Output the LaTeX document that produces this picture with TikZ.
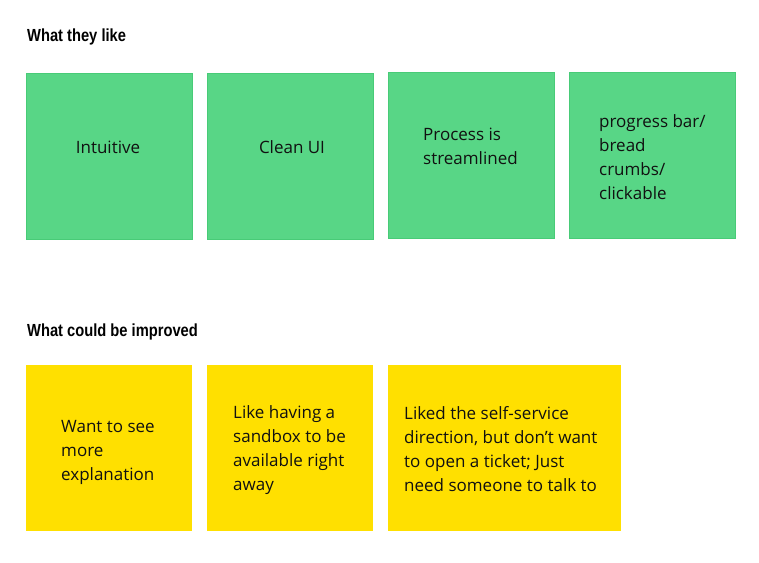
\documentclass[tikz,border=0pt]{standalone}
\usepackage{fontspec}
\setmainfont{Open Sans}
\newfontfamily\headfont[FakeStretch=0.84]{Liberation Sans}
\definecolor{stickygreen}{HTML}{58D686}
\definecolor{greenedge}{HTML}{48CB77}
\definecolor{stickyyellow}{HTML}{FFE000}
\definecolor{inkc}{HTML}{111111}
\tikzset{
  x=1pt, y=-1pt,
  greennote/.style={draw=greenedge, line width=0.8pt, fill=stickygreen, anchor=north west, inner sep=0pt, minimum width=166pt, minimum height=166pt},
  yellownote/.style={draw=none, fill=stickyyellow, anchor=north west, inner sep=0pt, minimum height=166pt},
  notetext/.style={font=\fontsize{17}{24}\selectfont, text=inkc, align=left, inner sep=0pt, anchor=west},
  header/.style={font=\headfont\bfseries\fontsize{17.5}{20}\selectfont, text=black, inner sep=0pt, anchor=base west}
}
\begin{document}
\begin{tikzpicture}
\useasboundingbox[fill=white] (0,0) rectangle (759,562);
\node[header] (h1) at (27,41) {What they like};
\node[header] (h2) at (27,336) {What could be improved};

\node[greennote] (g1) at (26,73) {};
\node[greennote] (g2) at (207,73) {};
\node[greennote] (g3) at (388,71.5) {};
\node[greennote] (g4) at (569,71.5) {};

\node[notetext, anchor=center] (t1) at (108,147) {Intuitive};
\node[notetext, anchor=center] (t2) at (292,147) {Clean UI};
\node[notetext] (t3) at (423,146) {Process is\\streamlined};
\node[notetext] (t4) at (599,157) {progress bar/\\bread\\crumbs/\\clickable};

\node[yellownote, minimum width=166pt] (y1) at (26,365) {};
\node[yellownote, minimum width=166pt] (y2) at (207,365) {};
\node[yellownote, minimum width=233pt] (y3) at (388,365) {};

\node[notetext] (u1) at (61,452) {Want to see\\more\\explanation};
\node[notetext] (u2) at (233,450.5) {Like having a\\sandbox to be\\available right\\away};
\node[notetext] (u3) at (404,449) {Liked the self-service\\direction, but don’t want\\to open a ticket; Just\\need someone to talk to};
\end{tikzpicture}
\end{document}
